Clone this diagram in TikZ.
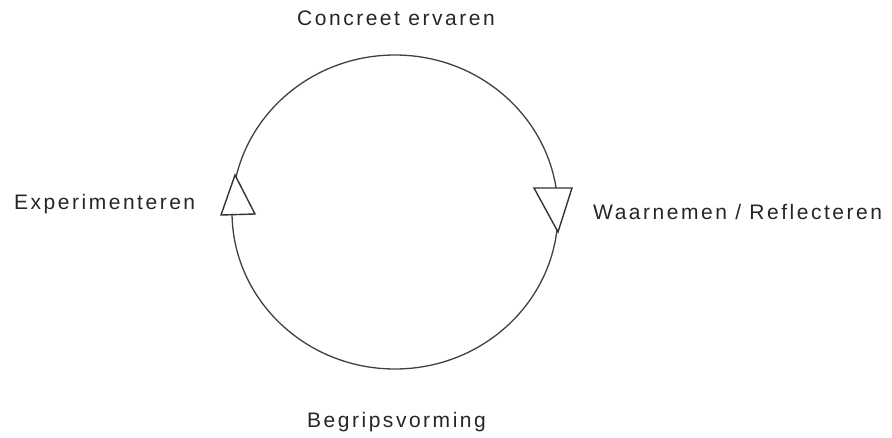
\documentclass[tikz,border=0pt]{standalone}
\usepackage{fontspec}
\setmainfont{Liberation Sans}[LetterSpace=12]
\usetikzlibrary{shapes.geometric}
\begin{document}
\begin{tikzpicture}[x=1pt,y=-1pt,
  lbl/.style={anchor=base west,inner sep=0pt,font=\fontsize{21}{25}\selectfont,text=black!85},
  ring/.style={draw=black!75,line width=1.3pt},
  tri/.style={draw=black!80,line width=1.4pt,fill=white,line join=miter}]
\useasboundingbox (0,0) rectangle (892,437);
\node[ring,ellipse,minimum width=326pt,minimum height=314pt,inner sep=0pt] (cyc) at (395,212) {};
\draw[tri] (235,175) -- (255,214) -- (221,215) -- cycle;
\draw[tri] (534,188) -- (572,188) -- (558,232) -- cycle;
\node[lbl] (top) at (297,25) {Concreet ervaren};
\node[lbl] (left) at (14,209) {Experimenteren};
\node[lbl] (right) at (593,219) {Waarnemen / Reflecteren};
\node[lbl] (bot) at (307,427) {Begripsvorming};
\end{tikzpicture}
\end{document}
